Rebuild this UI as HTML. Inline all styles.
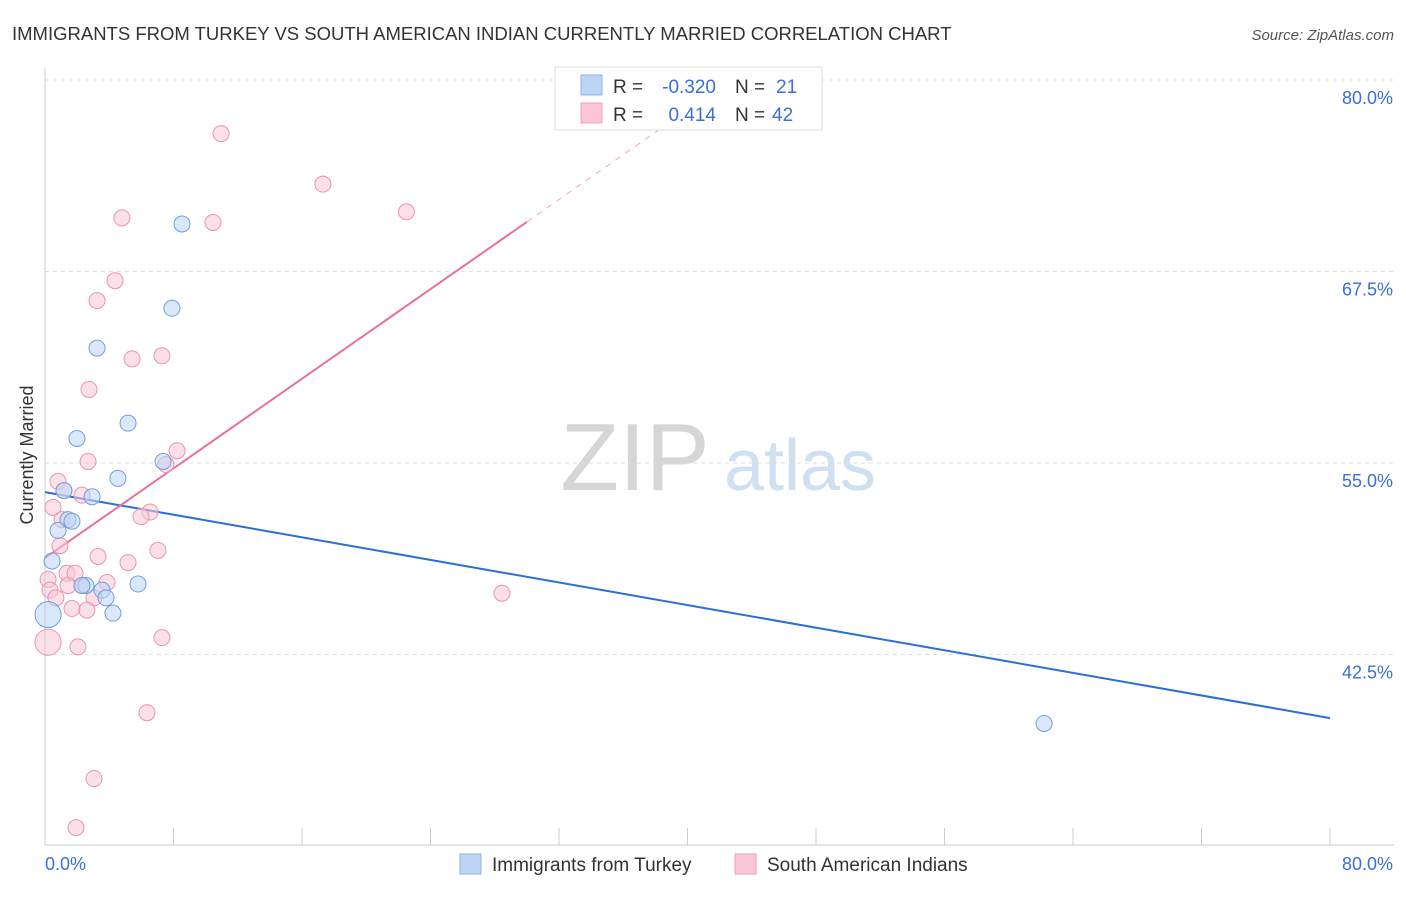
<!DOCTYPE html>
<html><head><meta charset="utf-8"><style>
body{margin:0;background:#fff;font-family:"Liberation Sans",sans-serif;}
svg text{font-family:"Liberation Sans",sans-serif;}
</style></head><body>
<svg id="chart" width="1406" height="892">
<text x="12" y="40" font-size="18.5" fill="#333">IMMIGRANTS FROM TURKEY VS SOUTH AMERICAN INDIAN CURRENTLY MARRIED CORRELATION CHART</text>
<text x="1394" y="40" font-size="15" fill="#555" font-style="italic" text-anchor="end">Source: ZipAtlas.com</text>
<g><text x="635" y="490" font-size="96" fill="#d6d6d6" font-family="Liberation Serif" text-anchor="middle">ZIP</text><text x="800" y="490" font-size="72" fill="#cfe0f3" text-anchor="middle">atlas</text></g>
<g id="grid"></g><g id="axes"></g><g id="lines"></g><g id="pts"></g>
<text transform="translate(33,455) rotate(-90)" font-size="18" fill="#333" text-anchor="middle">Currently Married</text>
<g>
<rect x="555" y="67" width="267" height="63" fill="#fff" stroke="#ddd"/>
<rect x="581" y="75" width="21" height="20" fill="#bcd5f5" stroke="#8fb3e3"/>
<rect x="581" y="103" width="21" height="20" fill="#f9c6d6" stroke="#eea0b8"/>
<text x="613" y="93" font-size="19" fill="#333">R =</text>
<text x="716" y="93" font-size="19" fill="#3a6fd6" text-anchor="end">-0.320</text>
<text x="735" y="93" font-size="19" fill="#333">N =</text>
<text x="776" y="93" font-size="19" fill="#3a6fd6">21</text>
<text x="613" y="121" font-size="19" fill="#333">R =</text>
<text x="716" y="121" font-size="19" fill="#3a6fd6" text-anchor="end">0.414</text>
<text x="735" y="121" font-size="19" fill="#333">N =</text>
<text x="772" y="121" font-size="19" fill="#3a6fd6">42</text>
</g>
<g>
<rect x="460" y="854" width="21" height="20" fill="#bcd5f5" stroke="#8fb3e3"/>
<text x="492" y="871" font-size="19" fill="#333">Immigrants from Turkey</text>
<rect x="735" y="854" width="21" height="20" fill="#f9c6d6" stroke="#eea0b8"/>
<text x="767" y="871" font-size="19" fill="#333">South American Indians</text>
</g>
</svg>
<script>
const yTicks=[42.5,55.0,67.5,80.0];
const xTickLabels=["0.0%","80.0%"];
const blueX=[8.53,7.9,3.24,5.17,1.99,7.35,4.54,1.18,2.93,1.43,1.68,0.81,0.44,5.79,2.55,3.55,3.80,4.23,0.19,62.2,2.3];
const blueY=[70.6,65.1,62.5,57.6,56.6,55.1,54.0,53.2,52.8,51.3,51.2,50.6,48.6,47.1,47.0,46.7,46.2,45.2,45.1,38.0,47.0];
const pinkX=[10.96,17.3,22.5,4.79,10.46,4.36,3.24,7.28,5.42,2.74,8.22,2.68,7.53,0.81,1.18,2.30,0.50,6.54,5.98,1.06,0.93,7.03,3.30,5.17,1.37,1.87,0.19,3.86,2.30,1.43,0.31,0.68,3.05,28.45,1.68,2.61,7.28,2.05,0.19,6.35,3.05,1.93];
const pinkY=[76.5,73.2,71.4,71.0,70.7,66.9,65.6,62.0,61.8,59.8,55.8,55.1,54.9,53.8,53.2,52.9,52.1,51.8,51.5,51.3,49.6,49.3,48.9,48.5,47.8,47.8,47.4,47.2,47.0,47.0,46.7,46.2,46.2,46.5,45.5,45.4,43.6,43.0,43.3,38.7,34.4,31.2];
const blueLine=[53.1,38.35];
const pinkLine=[48.8,107.3];
const NS="http://www.w3.org/2000/svg";
const X=v=>45+v/80*1285, Y=v=>463-(v-55)*15.32;
function mk(t,a,p){const e=document.createElementNS(NS,t);for(const k in a)e.setAttribute(k,a[k]);document.getElementById(p).appendChild(e);return e;}
yTicks.forEach(t=>{const g=mk('line',{x1:45,x2:1394,y1:Y(t),y2:Y(t),stroke:'#ddd','stroke-dasharray':'4,4'},'grid');


const l=mk('text',{x:1393,y:Y(t)+24,'font-size':18,fill:'#3a6fd6','text-anchor':'end'},'axes');l.textContent=t.toFixed(1)+'%';

});
const ax=mk('line',{x1:45,x2:1394,y1:845,y2:845,stroke:'#ccc'},'axes');


const ay=mk('line',{x1:45,x2:45,y1:68,y2:845,stroke:'#ccc'},'axes');


for(let i=0;i<=10;i++){const t=mk('line',{x1:X(i*8),x2:X(i*8),y1:828,y2:845,stroke:'#ccc'},'axes');

}
[[0,'start'],[80,'end']].forEach((d,i)=>{const t=mk('text',{x:i?1393:45,y:870,'font-size':18,fill:'#3a6fd6','text-anchor':d[1]},'axes');t.textContent=xTickLabels[i];

});
const bl=mk('line',{x1:X(0),y1:Y(blueLine[0]),x2:X(80),y2:Y(blueLine[1]),stroke:'#2a6fd6','stroke-width':2},'lines');


const slope=(pinkLine[1]-pinkLine[0])/80;
const xs=30, xe=(((463-70)/15.32+55 - pinkLine[0])/slope);
const pl=mk('line',{x1:X(0),y1:Y(pinkLine[0]),x2:X(xs),y2:Y(pinkLine[0]+slope*xs),stroke:'#e8709a','stroke-width':2},'lines');


const pd=mk('line',{x1:X(xs),y1:Y(pinkLine[0]+slope*xs),x2:X(xe),y2:Y(pinkLine[0]+slope*xe),stroke:'#f0a8c0','stroke-width':1,'stroke-dasharray':'6,6'},'lines');


function pts(xa,ya,fill,stroke,name,bigIdx){xa.forEach((v,i)=>{const c=mk('circle',{cx:X(v),cy:Y(ya[i]),r:i===bigIdx?13:8,fill:fill,stroke:stroke,'stroke-width':1,'fill-opacity':0.55},'pts');

});}
pts(pinkX,pinkY,'#f9c6d6','#e994b0','south-american-point',38);
pts(blueX,blueY,'#bcd5f5','#6f9fe0','turkey-point',18);
</script>
</body></html>
